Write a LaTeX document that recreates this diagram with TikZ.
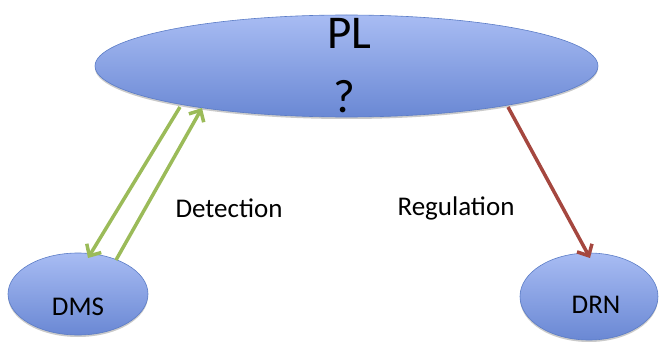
\documentclass[tikz,border=0pt]{standalone}
\usepackage{fontspec}
\setmainfont{Carlito}
\usetikzlibrary{shapes.geometric,arrows.meta,calc,shadows}
\definecolor{elltop}{HTML}{A8BCF3}
\definecolor{ellbot}{HTML}{6A88D4}
\definecolor{elldraw}{HTML}{5B7CC6}
\definecolor{grn}{HTML}{9BBB59}
\definecolor{rd}{HTML}{A5473F}
\tikzset{
  blob/.style={ellipse, draw=elldraw, line width=0.6pt, top color=elltop, bottom color=ellbot, inner sep=0pt,
    drop shadow={shadow xshift=0pt, shadow yshift=-2pt, opacity=0.35, fill=black!60}},
  bigtxt/.style={font=\fontsize{47}{56}\selectfont, anchor=base, inner sep=0pt},
  smalltxt/.style={font=\fontsize{27}{32}\selectfont, anchor=base, inner sep=0pt},
  garrow/.style={draw=grn, line width=3.5pt, -{Straight Barb[length=9pt,width=17pt,line width=3.5pt]}},
  rarrow/.style={draw=rd, line width=3.5pt, -{Straight Barb[length=9pt,width=17pt,line width=3.5pt]}}
}
\begin{document}
\begin{tikzpicture}[x=1pt,y=-1pt]
\useasboundingbox (0,0) rectangle (659,345);
\node[blob, minimum width=503pt, minimum height=102pt] (pl) at (346.5,66) {};
\node[blob, minimum width=140pt, minimum height=82pt] (dms) at (78,294) {};
\node[blob, minimum width=138pt, minimum height=87pt] (drn) at (589,296.5) {};
\node[bigtxt] (pltxt) at (349.5,49) {PL};
\node[bigtxt] (qtxt) at (344.5,112) {?};
\node[smalltxt] (dmstxt) at (78,315) {DMS};
\node[smalltxt] (drntxt) at (596,313) {DRN};
\node[smalltxt] (det) at (229,217) {Detection};
\node[smalltxt] (reg) at (456,215) {Regulation};
\draw[garrow] ($(pl.center)+(-166.5,41)$) -- ($(dms.center)+(10,-36)$);
\draw[garrow] ($(dms.center)+(38,-34)$) -- ($(pl.center)+(-144.5,42)$);
\draw[rarrow] ($(pl.center)+(161.5,41)$) -- ($(drn.center)+(1,-38.5)$);
\end{tikzpicture}
\end{document}
